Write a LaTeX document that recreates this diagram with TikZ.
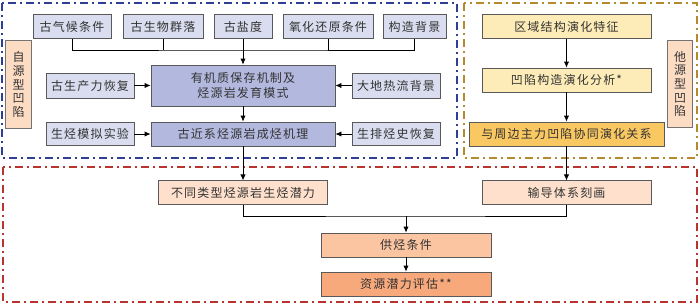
\documentclass[tikz,border=0pt]{standalone}
\usepackage{fontspec}
\newfontfamily\cjk[LetterSpace=10]{Noto Sans CJK SC}
\usetikzlibrary{arrows.meta}
\definecolor{factorfill}{HTML}{DADDEF}
\definecolor{corefill}{HTML}{B3B9DE}
\definecolor{tagfill}{HTML}{FDDCC4}
\definecolor{evolfill}{HTML}{FDECB8}
\definecolor{coevolfill}{HTML}{FAC862}
\definecolor{genfill}{HTML}{FEE0CC}
\definecolor{supplyfill}{HTML}{FBC5A2}
\definecolor{evalfill}{HTML}{F7A97C}
\definecolor{selfline}{HTML}{2F3F93}
\definecolor{otherline}{HTML}{B58A2E}
\definecolor{evalline}{HTML}{B9342E}
\begin{document}
\begin{tikzpicture}[>={Latex[length=4.5pt,width=4pt]},x=0.75pt,y=-0.75pt,
  box/.style={draw=black!65,line width=0.6pt,inner sep=1pt,align=center,text=black!80,font=\cjk\fontsize{9}{11}\selectfont},
  factor/.style={box,fill=factorfill,minimum height=17.5pt},
  core/.style={box,fill=corefill,minimum width=138pt},
  tag/.style={box,fill=tagfill,draw=black!55,minimum width=19pt,minimum height=65.5pt,font=\cjk\fontsize{9}{10.2}\selectfont},
  evol/.style={box,fill=evolfill,minimum height=17.5pt},
  frame/.style={line width=1.2pt,dash pattern=on 6pt off 3pt on 1.5pt off 3pt},
  link/.style={line width=0.6pt}]
\useasboundingbox (0,0) rectangle (700,305);
% frames
\draw[frame,selfline] (2,3) rectangle (457,158);
\draw[frame,otherline] (464,3) rectangle (697,158);
\draw[frame,evalline] (3,167) rectangle (697,302);
% self-sourced sag
\node[factor,minimum width=58.5pt] (clim) at (72,26.5) {古气候条件};
\node[factor,minimum width=60pt] (bio) at (163,26.5) {古生物群落};
\node[factor,minimum width=43.5pt] (sal) at (243,26.5) {古盐度};
\node[factor,minimum width=67.5pt] (redox) at (328,26.5) {氧化还原条件};
\node[factor,minimum width=47.25pt] (tect) at (414.5,26.5) {构造背景};
\node[core,minimum height=30.75pt] (pres) at (243,85.5) {有机质保存机制及\\烃源岩发育模式};
\node[core,minimum height=18pt] (mech) at (243,134) {古近系烃源岩成烃机理};
\node[factor,minimum width=66pt,minimum height=18.75pt] (prod) at (90,85.5) {古生产力恢复};
\node[factor,minimum width=66pt,minimum height=18.75pt] (heat) at (396,85.5) {大地热流背景};
\node[factor,minimum width=66pt] (sim) at (90,134) {生烃模拟实验};
\node[factor,minimum width=66pt] (hist) at (396,134) {生排烃史恢复};
\node[tag] (selftag) at (18.5,84.5) {自\\源\\型\\凹\\陷};
% other-sourced sag
\node[evol,minimum width=126.75pt] (region) at (566.5,26.5) {区域结构演化特征};
\node[evol,minimum width=126.75pt,minimum height=18pt] (sag) at (566.5,80) {凹陷构造演化分析*};
\node[box,fill=coevolfill,minimum width=146.25pt,minimum height=18pt] (coevol) at (566.5,134) {与周边主力凹陷协同演化关系};
\node[tag] (othertag) at (680,84) {他\\源\\型\\凹\\陷};
% evaluation
\node[box,fill=genfill,minimum width=126.75pt,minimum height=17.5pt] (genpot) at (243,192.5) {不同类型烃源岩生烃潜力};
\node[box,fill=genfill,minimum width=126.75pt,minimum height=17.5pt] (migr) at (566.5,192.5) {输导体系刻画};
\node[box,fill=supplyfill,minimum width=127.5pt,minimum height=18pt] (supply) at (406,245) {供烃条件};
\node[box,fill=evalfill,minimum width=127.5pt,minimum height=18pt] (resource) at (406,284) {资源潜力评估**};
% connectors
\coordinate (topbus) at (243,50);
\coordinate (lowbus) at (406,216);
\draw[link] (clim.south) |- (topbus) -| (tect.south);
\foreach \f in {bio,sal,redox}
  \draw[link] (\f.south) -- (\f.south |- topbus);
\draw[link,->] (topbus) -- (pres.north);
\draw[link,->] (pres) -- (mech);
\draw[link,->] (prod) -- (pres);
\draw[link,->] (heat) -- (pres);
\draw[link,->] (sim) -- (mech);
\draw[link,->] (hist) -- (mech);
\draw[link,->] (region) -- (sag);
\draw[link,->] (sag) -- (coevol);
\draw[link,->] (mech.south) -- (genpot.north);
\draw[link,->] (coevol.south) -- (migr.north);
\draw[link] (genpot.south) |- (lowbus) -| (migr.south);
\draw[link,->] (lowbus) -- (supply.north);
\draw[link,->] (supply) -- (resource);
\end{tikzpicture}
\end{document}
